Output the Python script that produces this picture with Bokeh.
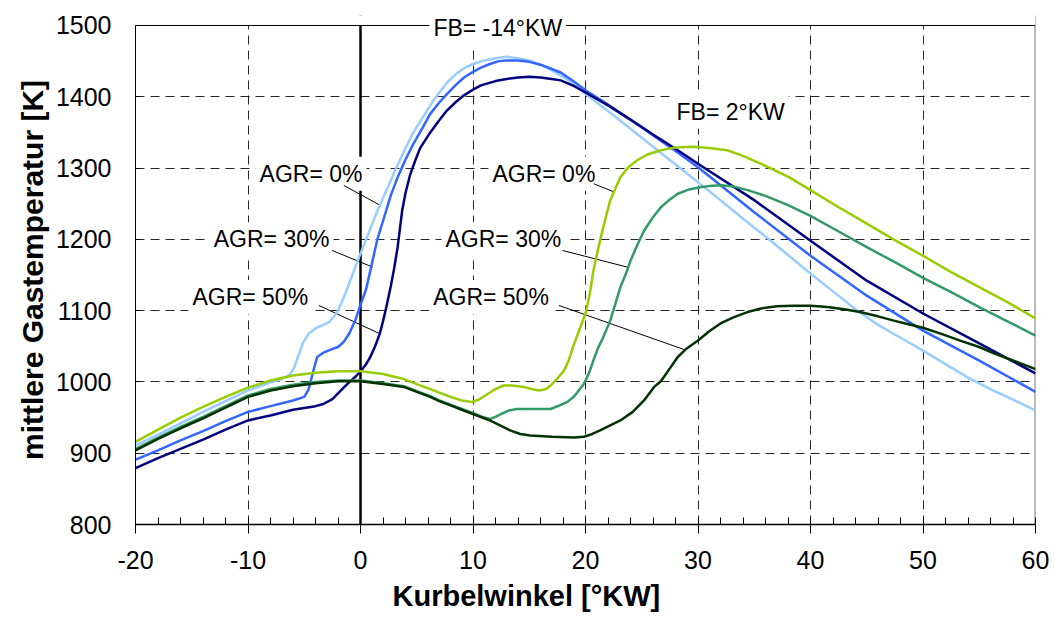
from bokeh.plotting import figure
from bokeh.models import Label, Span, FixedTicker, Range1d, BoxAnnotation, Title
from bokeh.embed import file_html
from bokeh.resources import INLINE

# ---- data (crank angle [°KW], mean gas temperature [K]) ----
# FB = -14 °KW
x_lb = [-20, -18, -16, -14, -12, -10, -8, -7, -6.3, -5.9, -5.5, -5.1, -4.6, -4.0, -3.3, -2.8, -2.4, -2.0, -1.5, -1.0,
        -0.5, 0, 0.5, 1.0, 1.5, 2.0, 2.5, 3.0, 3.5, 4.0, 4.7, 5.5, 6.2, 7.0, 7.7, 8.5, 9.2, 10, 11, 12,
        13, 14, 15, 16, 17, 18, 19, 20, 22, 24, 26, 28, 30, 32, 34, 36, 38, 40, 42, 44,
        46, 48, 50, 52, 54, 56, 58, 60]
y_lb = [911, 926, 942, 958, 973, 988, 999, 1004, 1010, 1020, 1038, 1055, 1068, 1075, 1080, 1084, 1091, 1100, 1118, 1138,
        1160, 1180, 1200, 1220, 1240, 1258, 1276, 1294, 1311, 1328, 1350, 1370, 1388, 1406, 1420, 1432, 1440, 1446, 1451, 1454,
        1456, 1454, 1451, 1445, 1437, 1428, 1417, 1404, 1380, 1355, 1330, 1305, 1280, 1255, 1229, 1204, 1178, 1152, 1127, 1102,
        1080, 1062, 1044, 1025, 1006, 990, 975, 960]

x_mb = [-20, -18, -16, -14, -12, -10, -8, -6, -5, -4.6, -4.2, -3.85, -3.3, -2.7, -2, -1.5, -1, -0.5, 0, 0.5,
        1.0, 1.5, 2.1, 2.7, 3.3, 4.0, 4.7, 5.5, 6.2, 7.0, 7.7, 8.5, 9.2, 10, 10.7, 11.5, 12.3, 13, 14, 15,
        16, 17, 17.8, 19, 20, 22, 25, 28, 30, 35, 40, 45, 50, 55, 60]
y_mb = [891, 904, 918, 931, 945, 958, 966, 974, 979, 990, 1015, 1035, 1041, 1045, 1049, 1056, 1068, 1085, 1108, 1130,
        1165, 1200, 1231, 1262, 1287, 1312, 1334, 1356, 1376, 1392, 1404, 1417, 1427, 1435, 1441, 1446, 1450, 1451, 1451, 1449,
        1445, 1439, 1434, 1421, 1409, 1389, 1357, 1324, 1301, 1238, 1177, 1121, 1072, 1030, 986]

x_nv = [-20, -18, -16, -14, -12, -10, -8, -6, -4, -3.3, -2.5, -2, -1.5, -0.9, -0.4, 0, 0.5, 0.9, 1.3, 1.7,
        2.0, 2.3, 2.7, 3.0, 3.3, 3.7, 4.0, 4.4, 4.9, 5.3, 6.2, 7.0, 7.7, 8.5, 9.2, 10, 10.7, 12, 13, 14,
        15, 16, 17, 17.8, 19, 20, 22, 24, 26, 28, 30, 35, 40, 45, 50, 55, 60]
y_nv = [879, 893, 906, 919, 933, 946, 953, 961, 966, 969, 976, 984, 992, 1001, 1008, 1015, 1025, 1036, 1050, 1067,
        1085, 1105, 1135, 1160, 1189, 1240, 1265, 1290, 1312, 1328, 1350, 1367, 1381, 1393, 1402, 1410, 1416, 1422, 1425, 1427,
        1428, 1427, 1425, 1423, 1415, 1406, 1388, 1368, 1347, 1327, 1306, 1255, 1198, 1142, 1096, 1054, 1012]

# FB = 2 °KW
x_yg = [-20, -18, -16, -14, -12, -10, -8, -6, -4, -2, 0, 2, 3.85, 5, 6.2, 7, 8, 9, 9.9, 10.5,
        11.3, 12, 12.7, 13.5, 14.5, 15.2, 15.9, 16.5, 16.9, 17.5, 18.1, 18.5, 19.0, 19.5, 20, 20.4, 20.7, 21.1, 21.5, 22.2,
        23.1, 23.8, 24.6, 25.5, 26.7, 28, 29.6, 31, 32.6, 34, 35.6, 38, 40, 42.5, 45, 47.5, 50, 52.5, 55, 57.5,
        60]
y_yg = [916, 933, 950, 965, 979, 992, 1002, 1009, 1013, 1015, 1015, 1011, 1004, 997, 990, 985, 979, 974, 972, 975,
        983, 990, 995, 995, 993, 990, 988, 990, 995, 1005, 1016, 1030, 1054, 1075, 1096, 1125, 1156, 1185, 1212, 1255,
        1287, 1301, 1311, 1319, 1325, 1329, 1330, 1328, 1325, 1317, 1306, 1288, 1269, 1245, 1222, 1199, 1177, 1154, 1133, 1112,
        1089]

x_tg = [-20, -18, -16, -14, -12, -10, -8, -6, -4, -2, 0, 2, 3.85, 5, 6.2, 7, 8, 9, 10, 11,
        11.5, 12, 12.5, 13.2, 13.9, 15, 16.9, 17.7, 18.4, 19, 19.5, 19.85, 20.3, 20.7, 21.1, 21.5, 22.2, 22.7, 23.1, 23.6,
        24, 24.6, 25.2, 26, 26.7, 27.5, 28.2, 29.2, 30.2, 31, 32, 33.2, 34.4, 36, 38, 40, 42.5, 45, 47.5, 50,
        52.5, 55, 57.5, 60]
y_tg = [906, 922, 937, 951, 966, 981, 990, 996, 1000, 1002, 1002, 998, 994, 987, 980, 974, 968, 962, 956, 950,
        948, 951, 955, 960, 962, 962, 962, 967, 972, 980, 990, 997, 1012, 1030, 1047, 1060, 1086, 1112, 1133, 1152,
        1170, 1192, 1212, 1231, 1245, 1256, 1264, 1270, 1273, 1275, 1276, 1274, 1269, 1261, 1248, 1233, 1211, 1189, 1168, 1146,
        1126, 1105, 1085, 1065]

x_dg = [-20, -18, -16, -14, -12, -10, -8, -6, -4, -2, 0, 2, 3.85, 5, 6.2, 7, 8, 9, 10, 11,
        11.5, 12.4, 13.3, 14.2, 15.1, 17, 19, 19.85, 20.6, 21.3, 22.2, 23.1, 24.2, 25.2, 26.1, 26.7, 27.5, 28.2, 29, 30,
        31, 32, 33.2, 34.4, 35.6, 37, 38.5, 40, 41.5, 43, 44.4, 46, 47.4, 48.7, 50, 51.7, 53.3, 55, 56.3, 58,
        60]
y_dg = [904, 920, 935, 949, 964, 979, 988, 994, 998, 1001, 1001, 997, 993, 986, 979, 973, 967, 961, 955, 949,
        946, 939, 932, 927, 925, 923, 922, 923, 927, 932, 939, 946, 958, 974, 993, 1001, 1019, 1035, 1047, 1058,
        1071, 1082, 1091, 1098, 1103, 1106, 1107, 1107, 1105, 1102, 1098, 1092, 1086, 1081, 1076, 1067, 1058, 1049, 1040, 1030,
        1018]

x_ticks = [-20, -10, 0, 10, 20, 30, 40, 50, 60]
x_tick_labels = ["-20", "-10", "0", "10", "20", "30", "40", "50", "60"]
x_minor = list(range(-20, 61, 2))
y_ticks = [800, 900, 1000, 1100, 1200, 1300, 1400, 1500]

FONT = "Liberation Sans"

p = figure(width=1050, height=620, output_backend="svg", toolbar_location=None,
           x_range=Range1d(-20, 60), y_range=Range1d(800, 1514),
           min_border_left=135, min_border_right=15, min_border_top=15, min_border_bottom=96,
           background_fill_color="white", border_fill_color="white")
p.outline_line_color = None

# axes
p.xaxis.ticker = FixedTicker(ticks=x_ticks, minor_ticks=x_minor)
p.xaxis.major_label_overrides = {t: s for t, s in zip(x_ticks, x_tick_labels)}
p.xaxis.major_tick_out = 9
p.xaxis.major_tick_in = 0
p.xaxis.minor_tick_in = 7
p.xaxis.minor_tick_out = 0
p.xaxis.axis_line_width = 1.5
p.xaxis.axis_line_color = "black"
p.xaxis.major_tick_line_color = "black"
p.xaxis.minor_tick_line_color = "black"
p.xaxis.major_label_text_font = FONT
p.xaxis.major_label_text_font_size = "25px"
p.xaxis.major_label_text_color = "black"
p.xaxis.major_label_standoff = 17

p.yaxis.ticker = FixedTicker(ticks=y_ticks)
p.yaxis.bounds = (800, 1500)
p.yaxis.major_tick_in = 4
p.yaxis.major_tick_out = 0
p.yaxis.minor_tick_line_color = None
p.yaxis.axis_line_color = "black"
p.yaxis.major_tick_line_color = "black"
p.yaxis.major_label_text_font = FONT
p.yaxis.major_label_text_font_size = "25px"
p.yaxis.major_label_text_color = "black"
p.yaxis.major_label_standoff = 24
p.yaxis.axis_label = "mittlere Gastemperatur [K]"
p.yaxis.axis_label_text_font = FONT
p.yaxis.axis_label_text_font_size = "30px"
p.yaxis.axis_label_text_font_style = "bold"
p.yaxis.axis_label_text_color = "black"
p.yaxis.axis_label_standoff = 4

for g in (p.xgrid, p.ygrid):
    g.grid_line_color = "black"
    g.grid_line_alpha = 0.85
    g.grid_line_dash = "9 6"
    g.grid_line_width = 1

# right border and zero line
p.add_layout(Span(location=60, dimension="height", line_color="#777777", line_width=2, level="underlay"))
p.add_layout(Span(location=0, dimension="height", line_color="black", line_width=2.5, level="underlay"))
# blank strip above 1500 (frame is a little taller so the top label is not clipped)
p.add_layout(BoxAnnotation(bottom=1500, fill_color="white", fill_alpha=1, line_color=None, level="underlay"))
p.add_layout(Span(location=1500, dimension="width", line_color="black", line_width=1, level="underlay"))

# annotation texts with white boxes
def txt(x, y, s):
    p.add_layout(Label(x=x, y=y, text=s, text_font=FONT, text_font_size="23px", text_color="black",
                       text_align="center", text_baseline="middle",
                       background_fill_color="white", padding=4, level="underlay"))

txt(12.2, 1496, "FB= -14°KW")
txt(32.9, 1379, "FB= 2°KW")
txt(-4.4, 1292, "AGR= 0%")
txt(-7.9, 1200, "AGR= 30%")
txt(-9.8, 1119, "AGR= 50%")
txt(16.3, 1292, "AGR= 0%")
txt(12.7, 1200, "AGR= 30%")
txt(11.6, 1119, "AGR= 50%")

# leader lines
lx0 = [-1.48, -2.52, -3.71, 20.74, 17.96, 17.63]
ly0 = [1275.6, 1184.4, 1107.3, 1278.0, 1184.4, 1107.3]
lx1 = [1.78, 1.09, 1.72, 22.58, 23.82, 28.8]
ly1 = [1247.5, 1161.0, 1067.6, 1266.2, 1160.6, 1045.2]
p.segment(lx0, ly0, lx1, ly1, line_color="black", line_width=1)

# curves
p.line(x_lb, y_lb, line_color="#99CCFF", line_width=2.5)
p.line(x_mb, y_mb, line_color="#3366FF", line_width=2.5)
p.line(x_nv, y_nv, line_color="#000080", line_width=2.5)
p.line(x_yg, y_yg, line_color="#99CC00", line_width=2.5)
p.line(x_tg, y_tg, line_color="#339966", line_width=2.5)
p.line(x_dg, y_dg, line_color="#003300", line_width=2.5)

# x axis title (left of centre as in the original)
p.add_layout(Title(text="Kurbelwinkel [°KW]", align="left", offset=257, text_font=FONT,
                   text_font_size="29px", text_font_style="bold", text_color="black", standoff=13), "below")

open("out.html", "w").write(file_html(p, INLINE))
